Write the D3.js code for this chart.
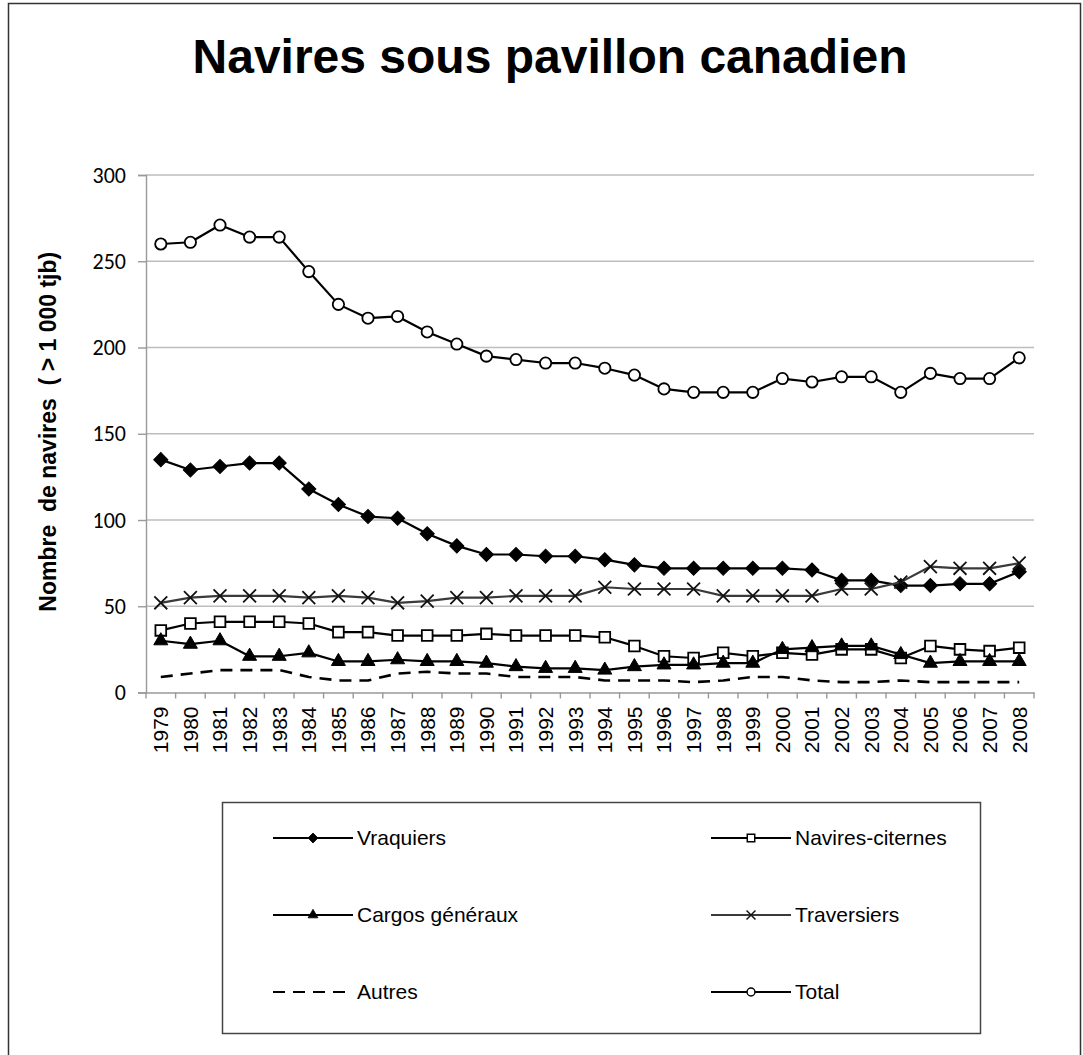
<!DOCTYPE html>
<html lang="fr">
<head>
<meta charset="utf-8">
<script src="https://cdn.jsdelivr.net/npm/d3@7"></script>
<style>
  html, body { margin: 0; padding: 0; background: #fff; }
  svg { display: block; }
  text { font-family: "Liberation Sans", Arial, sans-serif; fill: #000; }
</style>
</head>
<body>
<svg id="chart" width="1083" height="1055"></svg>
<script>
// Années (étiquettes de l'axe horizontal)
const years = ["1979","1980","1981","1982","1983","1984","1985","1986","1987","1988",
               "1989","1990","1991","1992","1993","1994","1995","1996","1997","1998",
               "1999","2000","2001","2002","2003","2004","2005","2006","2007","2008"];

// Nombre de navires par type
const vraquiers = [135,129,131,133,133,118,109,102,101,92,85,80,80,79,79,77,74,72,72,72,72,72,71,65,65,62,62,63,63,70];
const citernes  = [36,40,41,41,41,40,35,35,33,33,33,34,33,33,33,32,27,21,20,23,21,23,22,25,25,20,27,25,24,26];
const cargos    = [30,28,30,21,21,23,18,18,19,18,18,17,15,14,14,13,15,16,16,17,17,25,26,27,27,22,17,18,18,18];
const traversiers = [52,55,56,56,56,55,56,55,52,53,55,55,56,56,56,61,60,60,60,56,56,56,56,60,60,64,73,72,72,75];
const autres    = [9,11,13,13,13,9,7,7,11,12,11,11,9,9,9,7,7,7,6,7,9,9,7,6,6,7,6,6,6,6];
const total     = [260,261,271,264,264,244,225,217,218,209,202,195,193,191,191,188,184,176,174,174,174,182,180,183,183,174,185,182,182,194];

const yTicks = [0, 50, 100, 150, 200, 250, 300];

const series = [
  { name: "Vraquiers",        values: vraquiers,   marker: "diamond",  color: "#000",    dash: null },
  { name: "Navires-citernes", values: citernes,    marker: "square",   color: "#000",    dash: null },
  { name: "Cargos généraux",  values: cargos,      marker: "triangle", color: "#000",    dash: null },
  { name: "Traversiers",      values: traversiers, marker: "times",    color: "#3a3a3a", dash: null },
  { name: "Autres",           values: autres,      marker: null,       color: "#000",    dash: "12,8" },
  { name: "Total",            values: total,       marker: "circle",   color: "#000",    dash: null }
];

const svg = d3.select("#chart");

// Cadre extérieur
svg.append("rect")
  .attr("x", 8.5).attr("y", 3.5)
  .attr("width", 1072).attr("height", 1100)
  .attr("fill", "none").attr("stroke", "#333").attr("stroke-width", 1.5);

// Titre
svg.append("text")
  .attr("x", 550).attr("y", 73)
  .attr("text-anchor", "middle")
  .style("font-size", "48px").style("font-weight", "bold")
  .text("Navires sous pavillon canadien");

const plot = { left: 146, right: 1034, top: 175, bottom: 692.5 };

const x = d3.scaleBand().domain(years).range([plot.left, plot.right]);
const y = d3.scaleLinear().domain([0, 300]).range([plot.bottom, plot.top]);
const cx = d => x(d) + x.bandwidth() / 2;

// Quadrillage horizontal
svg.append("g")
  .selectAll("line")
  .data(yTicks.filter(t => t > 0))
  .join("line")
  .attr("x1", plot.left).attr("x2", plot.right)
  .attr("y1", d => y(d)).attr("y2", d => y(d))
  .attr("stroke", "#bdbdbd").attr("stroke-width", 1.4);

// Axe vertical
const yAxis = svg.append("g")
  .attr("transform", `translate(${plot.left},0)`)
  .call(d3.axisLeft(y).tickValues(yTicks).tickSize(8).tickPadding(12));
yAxis.attr("font-size", null).attr("font-family", null);
yAxis.select(".domain").attr("stroke", "#999").attr("stroke-width", 1.4);
yAxis.selectAll(".tick line").attr("stroke", "#999").attr("stroke-width", 1.4);
yAxis.selectAll(".tick text")
  .style("font-family", "Carlito, Lato, 'Open Sans', sans-serif")
  .style("font-size", "22px").attr("fill", "#000");

// Axe horizontal : étiquettes au centre des catégories
const xAxis = svg.append("g")
  .attr("transform", `translate(0,${plot.bottom})`)
  .call(d3.axisBottom(x).tickSize(0).tickPadding(0));
xAxis.attr("font-size", null).attr("font-family", null);
xAxis.select(".domain").attr("stroke", "#999").attr("stroke-width", 1.4);
xAxis.selectAll(".tick text")
  .attr("transform", "translate(0,14) rotate(-90)")
  .attr("text-anchor", "end")
  .attr("x", 0).attr("y", 0).attr("dy", "0.35em")
  .style("font-size", "21px").attr("fill", "#000");

// Graduations aux limites des catégories
const bounds = years.map(d => x(d)).concat([x(years[years.length - 1]) + x.bandwidth()]);
svg.append("g")
  .selectAll("line")
  .data(bounds)
  .join("line")
  .attr("x1", d => d).attr("x2", d => d)
  .attr("y1", plot.bottom).attr("y2", plot.bottom + 6)
  .attr("stroke", "#999").attr("stroke-width", 1.4);

// Libellé de l'axe vertical
svg.append("text")
  .attr("transform", `translate(56,${(plot.top + plot.bottom) / 2 - 2}) rotate(-90)`)
  .attr("text-anchor", "middle")
  .style("font-size", "23px").style("font-weight", "bold")
  .style("white-space", "pre")
  .attr("xml:space", "preserve")
  .text("Nombre  de navires  ( > 1 000 tjb)");

// Marqueurs
function markerPath(kind, scale) {
  const s = scale || 1;
  switch (kind) {
    case "diamond":  return { d: d3.symbol(d3.symbolSquare, 100 * s * s)(), rot: 45, fill: "#000", stroke: "#000", sw: 1 };
    case "square":   return { d: d3.symbol(d3.symbolSquare, 115 * s * s)(), rot: 0, fill: "#fff", stroke: "#000", sw: 1.8 };
    case "triangle": return { d: d3.symbol(d3.symbolTriangle, 85 * s * s)(), rot: 0, fill: "#000", stroke: "#000", sw: 1 };
    case "times":    return { d: d3.symbol(d3.symbolTimes, 110 * s * s)(), rot: 0, fill: "none", stroke: "#111", sw: 1.8 };
    case "circle":   return { d: d3.symbol(d3.symbolCircle, 100 * s * s)(), rot: 0, fill: "#fff", stroke: "#000", sw: 1.8 };
  }
  return null;
}

const line = d3.line().x((v, i) => cx(years[i])).y(v => y(v));

series.forEach(s => {
  svg.append("path")
    .datum(s.values)
    .attr("d", line)
    .attr("fill", "none")
    .attr("stroke", s.color)
    .attr("stroke-width", s.dash ? 2.6 : 2.2)
    .attr("stroke-dasharray", s.dash)
    .attr("stroke-linejoin", "round");

  const m = markerPath(s.marker);
  if (m) {
    svg.append("g")
      .selectAll("path")
      .data(s.values)
      .join("path")
      .attr("d", m.d)
      .attr("transform", (v, i) => `translate(${cx(years[i])},${y(v)}) rotate(${m.rot})`)
      .attr("fill", m.fill)
      .attr("stroke", m.stroke)
      .attr("stroke-width", m.sw);
  }
});

// Légende
const legend = { x: 222, y: 802, w: 758, h: 231 };
svg.append("rect")
  .attr("x", legend.x + 0.5).attr("y", legend.y + 0.5)
  .attr("width", legend.w).attr("height", legend.h)
  .attr("fill", "#fff").attr("stroke", "#444").attr("stroke-width", 1.5);

const colX = [273, 711];
const rowY = [838, 915, 992];
const lineLen = 80;

series.forEach((s, i) => {
  const lx = colX[i % 2];
  const ly = rowY[Math.floor(i / 2)];
  const g = svg.append("g").attr("transform", `translate(${lx},${ly})`);
  g.append("line")
    .attr("x1", 0).attr("x2", lineLen)
    .attr("y1", 0).attr("y2", 0)
    .attr("stroke", s.color)
    .attr("stroke-width", s.dash ? 2.2 : 2)
    .attr("stroke-dasharray", s.dash ? "12,8" : null);
  const m = markerPath(s.marker, 0.7);
  if (m) {
    g.append("path")
      .attr("d", m.d)
      .attr("transform", `translate(${lineLen / 2},0) rotate(${m.rot})`)
      .attr("fill", m.fill).attr("stroke", m.stroke).attr("stroke-width", m.sw * 0.8);
  }
  g.append("text")
    .attr("x", lineLen + 4).attr("y", 0).attr("dy", "0.35em")
    .style("font-size", "21px")
    .text(s.name);
});
</script>
</body>
</html>
